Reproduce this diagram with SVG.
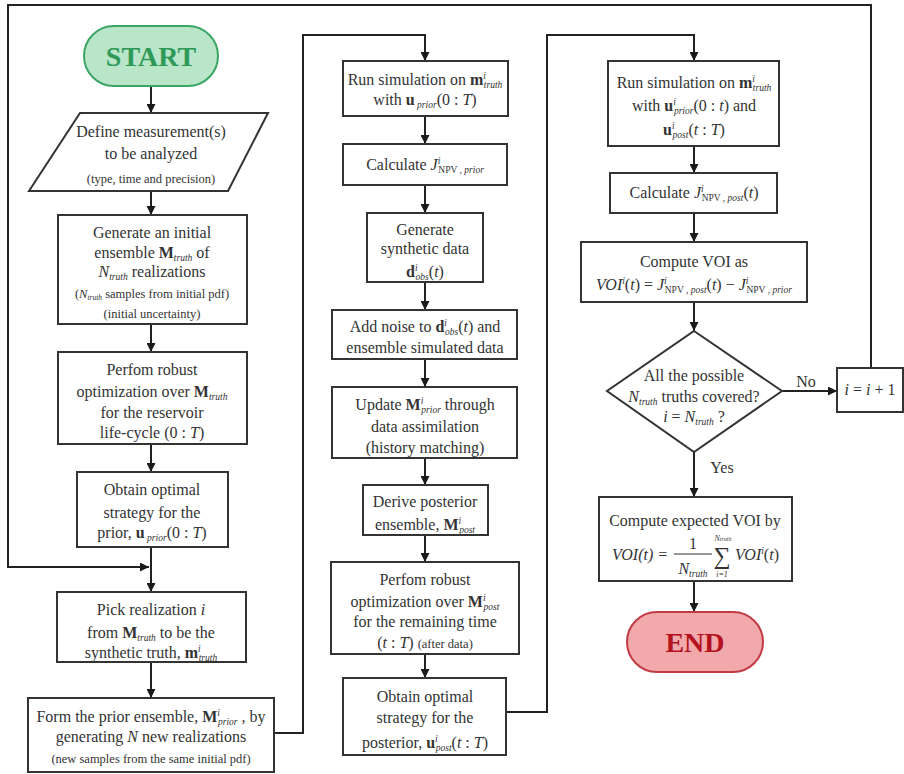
<svg xmlns="http://www.w3.org/2000/svg" width="904" height="774" viewBox="0 0 904 774" font-family="'Liberation Serif','DejaVu Serif','Times New Roman',serif">
<defs>
<marker id="ah" markerUnits="userSpaceOnUse" markerWidth="10" markerHeight="9" viewBox="0 0 10 10" refX="10" refY="5" orient="auto">
<path d="M0,0 L10,5 L0,10 z" fill="#1a1a1a"/>
</marker>
<style>
.box{fill:#fff;stroke:#333;stroke-width:2}
.t{font-family:'Liberation Serif','DejaVu Serif','Times New Roman',serif;font-size:16px;fill:#333;text-anchor:middle}
.sm{font-size:12.5px}
.sb{font-size:9.5px;font-style:italic}
.it{font-style:italic}
.b{font-weight:bold}
.conn path,.conn line{stroke:#222;stroke-width:2;fill:none;marker-end:url(#ah)}
.lbl{font-family:'Liberation Serif','DejaVu Serif','Times New Roman',serif;font-size:16px;fill:#333;text-anchor:middle}
</style>
</defs>
<rect width="904" height="774" fill="#fff"/>

<g class="conn">
<line x1="151" y1="87" x2="151" y2="113"/>
<line x1="151" y1="191" x2="151" y2="215"/>
<line x1="151" y1="324" x2="151" y2="352"/>
<line x1="151" y1="444" x2="151" y2="472"/>
<line x1="151" y1="547" x2="151" y2="592"/>
<line x1="151" y1="662" x2="151" y2="698"/>
<path d="M274,733 H303 V35 H425 V61"/>
<line x1="425" y1="116" x2="425" y2="144"/>
<line x1="425" y1="185" x2="425" y2="213"/>
<line x1="425" y1="282" x2="425" y2="310"/>
<line x1="425" y1="359" x2="425" y2="387"/>
<line x1="425" y1="458" x2="425" y2="485"/>
<line x1="425" y1="535" x2="425" y2="562"/>
<line x1="425" y1="654" x2="425" y2="678"/>
<path d="M506,712 H547 V35 H694 V61"/>
<line x1="694" y1="146" x2="694" y2="173"/>
<line x1="694" y1="213" x2="694" y2="242"/>
<line x1="694" y1="302" x2="694" y2="331"/>
<line x1="782" y1="391" x2="837" y2="391"/>
<line x1="694" y1="452" x2="694" y2="497"/>
<line x1="694" y1="581" x2="694" y2="612"/>
<path d="M871,368 V5 H8 V567 H149"/>
<text class="lbl" x="806" y="387">No</text>
<text class="lbl" x="722" y="473">Yes</text>
</g>

<g id="start">
<rect x="84" y="26" width="134" height="60" rx="30" fill="#b9e5c8" stroke="#3da563" stroke-width="2"/>
<text class="t b" x="151" y="66" style="font-size:28px;fill:#2e9a58">START</text>
</g>

<g id="define">
<polygon class="box" points="80,113 268,113 228,191 29,191"/>
<text class="t" x="151" y="137">Define measurement(s)</text>
<text class="t" x="151" y="159">to be analyzed</text>
<text class="t sm" x="151" y="183">(type, time and precision)</text>
</g>

<g id="generate">
<rect class="box" x="58" y="215" width="189" height="109"/>
<text class="t" x="152" y="238">Generate an initial</text>
<text class="t" x="152" y="258">ensemble <tspan class="b">M</tspan><tspan class="sb" dy="3">truth</tspan><tspan dy="-3"> of</tspan></text>
<text class="t" x="152" y="277"><tspan class="it">N</tspan><tspan class="sb" dy="3">truth</tspan><tspan dy="-3"> realizations</tspan></text>
<text class="t sm" x="152" y="298">(<tspan class="it">N</tspan><tspan class="sb" dy="2" style="font-size:7.5px">truth</tspan><tspan dy="-2"> samples from initial pdf)</tspan></text>
<text class="t sm" x="152" y="318">(initial uncertainty)</text>
</g>

<g id="robust">
<rect class="box" x="58" y="352" width="189" height="92"/>
<text class="t" x="152" y="375">Perfom robust</text>
<text class="t" x="152" y="397">optimization over <tspan class="b">M</tspan><tspan class="sb" dy="3">truth</tspan></text>
<text class="t" x="152" y="418">for the reservoir</text>
<text class="t" x="152" y="438">life-cycle (0 : <tspan class="it">T</tspan>)</text>
</g>

<g id="obtain-prior">
<rect class="box" x="77" y="472" width="151" height="75"/>
<text class="t" x="152" y="495">Obtain optimal</text>
<text class="t" x="152" y="518">strategy for the</text>
<text class="t" x="152" y="538">prior, <tspan class="b">u</tspan><tspan class="sb" dy="3"> prior</tspan><tspan dy="-3">(0 : </tspan><tspan class="it">T</tspan>)</text>
</g>

<g id="pick">
<rect class="box" x="57" y="592" width="189" height="70"/>
<text class="t" x="151" y="615">Pick realization  <tspan class="it">i</tspan></text>
<text class="t" x="151" y="638">from <tspan class="b">M</tspan><tspan class="sb" dy="3">truth</tspan><tspan dy="-3"> to be the</tspan></text>
<text class="t" x="151" y="658">synthetic truth, <tspan class="b">m</tspan><tspan class="sb" dy="-6">i</tspan><tspan class="sb" dx="-2" dy="9">truth</tspan></text>
</g>

<g id="form-prior">
<rect class="box" x="28" y="698" width="246" height="74"/>
<text class="t" x="151" y="722">Form the prior ensemble, <tspan class="b">M</tspan><tspan class="sb" dy="-6">i</tspan><tspan class="sb" dx="-2" dy="9">prior</tspan><tspan dy="-3"> , by</tspan></text>
<text class="t" x="151" y="742">generating <tspan class="it">N</tspan> new realizations</text>
<text class="t sm" x="151" y="763">(new samples from the same initial pdf)</text>
</g>

<g id="run-prior">
<rect class="box" x="343" y="61" width="165" height="55"/>
<text class="t" x="425" y="85">Run simulation on <tspan class="b">m</tspan><tspan class="sb" dy="-6">i</tspan><tspan class="sb" dx="-2" dy="9">truth</tspan></text>
<text class="t" x="425" y="105">with <tspan class="b">u</tspan><tspan class="sb" dy="3"> prior</tspan><tspan dy="-3">(0 : </tspan><tspan class="it">T</tspan>)</text>
</g>

<g id="calc-prior">
<rect class="box" x="343" y="144" width="164" height="41"/>
<text class="t" x="425" y="170">Calculate <tspan class="it">J</tspan><tspan class="sb" dy="-6">i</tspan><tspan dx="-2" dy="9" style="font-size:9.5px">NPV , </tspan><tspan class="sb">prior</tspan></text>
</g>

<g id="synthetic">
<rect class="box" x="367" y="213" width="116" height="69"/>
<text class="t" x="425" y="235">Generate</text>
<text class="t" x="425" y="254">synthetic data</text>
<text class="t" x="425" y="277"><tspan class="b">d</tspan><tspan class="sb" dy="-6">i</tspan><tspan class="sb" dx="-2" dy="9">obs</tspan><tspan dy="-3">(</tspan><tspan class="it">t</tspan>)</text>
</g>

<g id="noise">
<rect class="box" x="332" y="310" width="185" height="49"/>
<text class="t" x="425" y="332">Add noise to <tspan class="b">d</tspan><tspan class="sb" dy="-6">i</tspan><tspan class="sb" dx="-2" dy="9">obs</tspan><tspan dy="-3">(</tspan><tspan class="it">t</tspan>) and</text>
<text class="t" x="425" y="353">ensemble simulated data</text>
</g>

<g id="update">
<rect class="box" x="332" y="387" width="185" height="71"/>
<text class="t" x="425" y="410">Update <tspan class="b">M</tspan><tspan class="sb" dy="-6">i</tspan><tspan class="sb" dx="-2" dy="9">prior</tspan><tspan dy="-3"> through</tspan></text>
<text class="t" x="425" y="432">data assimilation</text>
<text class="t" x="425" y="453">(history matching)</text>
</g>

<g id="posterior">
<rect class="box" x="363" y="485" width="125" height="50"/>
<text class="t" x="425" y="507">Derive posterior</text>
<text class="t" x="425" y="530">ensemble, <tspan class="b">M</tspan><tspan class="sb" dy="-6">i</tspan><tspan class="sb" dx="-2" dy="9">post</tspan></text>
</g>

<g id="robust-post">
<rect class="box" x="331" y="562" width="188" height="92"/>
<text class="t" x="425" y="585">Perfom robust</text>
<text class="t" x="425" y="607">optimization over <tspan class="b">M</tspan><tspan class="sb" dy="-6">i</tspan><tspan class="sb" dx="-2" dy="9">post</tspan></text>
<text class="t" x="425" y="627">for the remaining time</text>
<text class="t" x="425" y="648">(<tspan class="it">t</tspan> : <tspan class="it">T</tspan>) <tspan class="sm">(after data)</tspan></text>
</g>

<g id="obtain-post">
<rect class="box" x="343" y="678" width="163" height="77"/>
<text class="t" x="425" y="702">Obtain optimal</text>
<text class="t" x="425" y="723">strategy for the</text>
<text class="t" x="425" y="748">posterior, <tspan class="b">u</tspan><tspan class="sb" dy="-6">i</tspan><tspan class="sb" dx="-2" dy="9">post</tspan><tspan dy="-3">(</tspan><tspan class="it">t</tspan> : <tspan class="it">T</tspan>)</text>
</g>

<g id="run-post">
<rect class="box" x="608" y="61" width="171" height="85"/>
<text class="t" x="694" y="88">Run simulation on <tspan class="b">m</tspan><tspan class="sb" dy="-6">i</tspan><tspan class="sb" dx="-2" dy="9">truth</tspan></text>
<text class="t" x="694" y="111">with <tspan class="b">u</tspan><tspan class="sb" dy="-6">i</tspan><tspan class="sb" dx="-2" dy="9">prior</tspan><tspan dy="-3">(0 : </tspan><tspan class="it">t</tspan>) and</text>
<text class="t" x="694" y="135"><tspan class="b">u</tspan><tspan class="sb" dy="-6">i</tspan><tspan class="sb" dx="-2" dy="9">post</tspan><tspan dy="-3">(</tspan><tspan class="it">t</tspan> : <tspan class="it">T</tspan>)</text>
</g>

<g id="calc-post">
<rect class="box" x="610" y="173" width="167" height="40"/>
<text class="t" x="694" y="198">Calculate <tspan class="it">J</tspan><tspan class="sb" dy="-6">i</tspan><tspan dx="-2" dy="9" style="font-size:9.5px">NPV , </tspan><tspan class="sb">post</tspan><tspan dy="-3">(</tspan><tspan class="it">t</tspan>)</text>
</g>

<g id="voi">
<rect class="box" x="581" y="242" width="226" height="60"/>
<text class="t" x="694" y="267">Compute VOI as</text>
<text class="t" x="694" y="290"><tspan class="it">VOI</tspan><tspan class="sb" dy="-6">i</tspan><tspan dy="6">(</tspan><tspan class="it">t</tspan>) = <tspan class="it">J</tspan><tspan class="sb" dy="-6">i</tspan><tspan dx="-2" dy="9" style="font-size:9.5px">NPV , </tspan><tspan class="sb">post</tspan><tspan dy="-3">(</tspan><tspan class="it">t</tspan>) − <tspan class="it">J</tspan><tspan class="sb" dy="-6">i</tspan><tspan dx="-2" dy="9" style="font-size:9.5px">NPV , </tspan><tspan class="sb">prior</tspan></text>
</g>

<g id="decision">
<polygon class="box" points="694,331 782,391 694,452 607,391"/>
<text class="t" x="694" y="381">All the possible</text>
<text class="t" x="694" y="402"><tspan class="it">N</tspan><tspan class="sb" dy="3">truth</tspan><tspan dy="-3"> truths covered?</tspan></text>
<text class="t" x="694" y="422"><tspan class="it">i</tspan> = <tspan class="it">N</tspan><tspan class="sb" dy="3">truth</tspan><tspan dy="-3"> ?</tspan></text>
</g>

<g id="increment">
<rect class="box" x="837" y="368" width="66" height="44"/>
<text class="t" x="870" y="395"><tspan class="it">i</tspan> = <tspan class="it">i</tspan> + 1</text>
</g>

<g id="expected">
<rect class="box" x="599" y="497" width="193" height="84"/>
<text class="t" x="695" y="526">Compute expected VOI by</text>
<text class="t it" x="640" y="560">VOI(t) =</text>
<text class="t" x="693" y="549">1</text>
<line x1="674" y1="554" x2="712" y2="554" stroke="#333" stroke-width="1"/>
<text class="t" x="693" y="574"><tspan class="it">N</tspan><tspan class="sb" dy="3">truth</tspan></text>
<text class="t" x="722" y="564" style="font-size:24px">∑</text>
<text class="t sb" x="723" y="541" style="font-size:8px">N<tspan style="font-size:6px">truth</tspan></text>
<text class="t sb" x="722" y="577" style="font-size:8px">i=1</text>
<text class="t" x="757" y="560"><tspan class="it">VOI</tspan><tspan class="sb" dy="-6">i</tspan><tspan dy="6">(</tspan><tspan class="it">t</tspan>)</text>
</g>

<g id="end">
<rect x="627" y="612" width="136" height="60" rx="30" fill="#f1a9ac" stroke="#c23a44" stroke-width="2"/>
<text class="t b" x="695" y="652" style="font-size:28px;fill:#b3121e">END</text>
</g>
</svg>
